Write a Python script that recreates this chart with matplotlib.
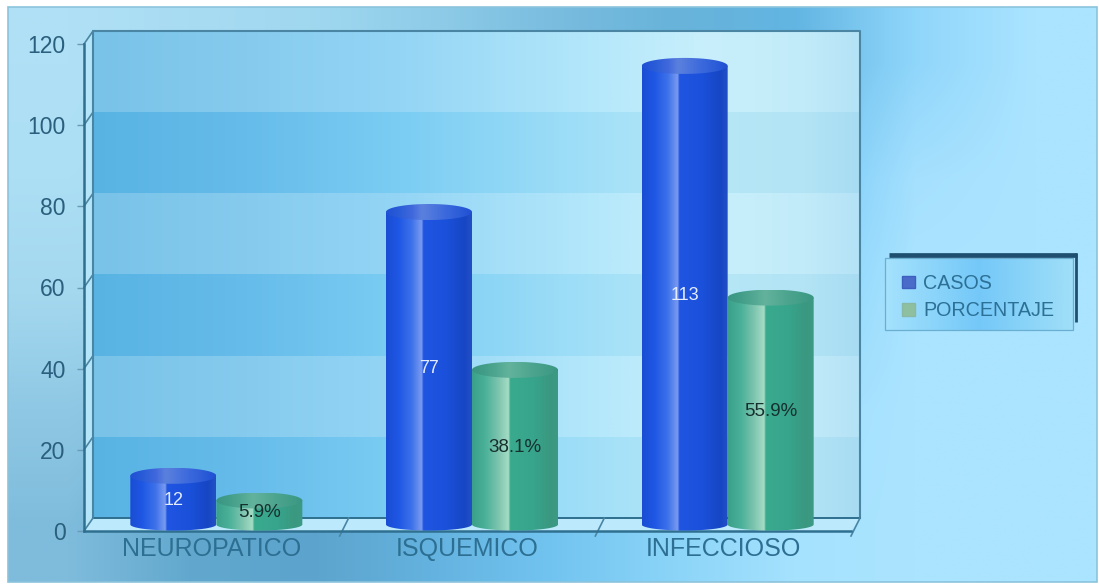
#!/usr/bin/env python3
import numpy as np
import matplotlib
matplotlib.use('Agg')
import matplotlib.pyplot as plt
from matplotlib.colors import to_rgb
from matplotlib.patches import Patch, Polygon, Rectangle

categories = ['NEUROPATICO', 'ISQUEMICO', 'INFECCIOSO']
casos = [12, 77, 113]
porcentaje = [5.9, 38.1, 55.9]
casos_labels = ['12', '77', '113']
porcentaje_labels = ['5.9%', '38.1%', '55.9%']
y_ticks = [0, 20, 40, 60, 80, 100, 120]

W, H = 1099, 584
plt.rcParams['font.family'] = ['Liberation Sans', 'DejaVu Sans']

# axes frame in pixels (front plane), everything 3d is offset from this
AX_L, AX_R, AX_T, AX_B = 84, 851, 44, 531
XPX = 3 / (AX_R - AX_L)
YPX = 120 / (AX_B - AX_T)
DX, DY = 9 * XPX, 13 * YPX


def hex_grid(rows):
    return np.array([[to_rgb(c) for c in row] for row in rows])


def ramp(stops, colors, n=256):
    t = np.linspace(0, 1, n)
    rgb = np.array([to_rgb(c) for c in colors])
    return np.stack([np.interp(t, stops, rgb[:, k]) for k in range(3)], axis=1)


panel_colors = [
    ['#b0e0f5', '#a8dcf3', '#a0d8f0', '#8fcce8', '#7abddf', '#68b3da', '#62b5e2', '#90d6fb', '#abe4ff'],
    ['#acdff4', '#a8dcf3', '#a0d8f0', '#90d0ec', '#80c8ec', '#78c8f0', '#72c8f8', '#a5e0fe', '#abe4ff'],
    ['#a4d8ef', '#a0d8f0', '#98d0ec', '#90d0ec', '#88ccf0', '#80ccf4', '#85d3fb', '#abe4ff', '#abe4ff'],
    ['#8fc8e4', '#88c0de', '#84bee0', '#88c6e8', '#8ccef0', '#94d6f8', '#a0defd', '#abe4ff', '#abe4ff'],
    ['#7fbcdc', '#62a8ce', '#5ca4cd', '#64b2df', '#72c4f0', '#8bd4f8', '#a5e2fe', '#abe4ff', '#abe4ff'],
]

wall_stops = [0, 0.2, 0.4, 0.66, 0.8, 0.93, 1]
wall_light = ['#79c2e8', '#86cbee', '#94d5f5', '#b5e8fb', '#c8effb', '#c2ebf9', '#b4e2f6']
wall_dark = ['#58b3e3', '#66bcea', '#7bcdf3', '#a3e0f8', '#b5e7f7', '#b2e4f5', '#a8dcf2']

blue_stops = [0, 0.15, 0.3, 0.41, 0.43, 0.7, 0.9, 1]
blue_side = ['#1a4cd4', '#1f58e4', '#3f72ea', '#7a9cf0', '#1f55e0', '#1a50da', '#1746c4', '#2450c6']
blue_top = ['#2050d4', '#2a5cd8', '#4068dc', '#5a80de', '#5a80de', '#3a68dc', '#2858d6', '#2050d0']
green_stops = [0, 0.15, 0.3, 0.42, 0.44, 0.7, 0.9, 1]
green_side = ['#3ba08a', '#4ab098', '#7cc4ae', '#a5dcc5', '#3aaa8e', '#37a58c', '#3a9880', '#3d9a85']
green_top = ['#3a9682', '#429e88', '#52a892', '#62b29c', '#62b29c', '#4ca48e', '#409c86', '#3a9682']

fig = plt.figure(figsize=(W / 100, H / 100), dpi=100, facecolor='white')

# panel behind the chart, drawn in pixel coordinates
bg = fig.add_axes([0, 0, 1, 1], zorder=0)
bg.set_xlim(0, W)
bg.set_ylim(H, 0)
bg.axis('off')
bg.set_autoscale_on(False)
bg.imshow(hex_grid(panel_colors), extent=(8, 1097, 582, 7), aspect='auto', interpolation='bilinear')
bg.add_patch(Rectangle((8, 7), 1089, 575, fill=False, edgecolor='#8cc3dc', lw=1.2))

# legend box
legend_box = bg.imshow(ramp([0, 0.5, 1], ['#a5e2fd', '#74c8f8', '#a0dff8'])[None, :, :],
                       extent=(885, 1073, 330, 258), aspect='auto', interpolation='bilinear')
bg.add_patch(Rectangle((885, 258), 188, 72, fill=False, edgecolor='#6aaed2', lw=0.9))
bg.plot([889, 1077], [254.5, 254.5], color='#1f4f70', lw=3.4, solid_capstyle='butt')
bg.plot([1076, 1076], [253, 322], color='#1f4f70', lw=2, solid_capstyle='butt')

ax = fig.add_axes([AX_L / W, 1 - AX_B / H, (AX_R - AX_L) / W, (AX_B - AX_T) / H], zorder=1)
ax.patch.set_visible(False)
ax.set_xlim(0, 3)
ax.set_ylim(0, 120)
ax.set_autoscale_on(False)

# back wall bands, dark and light in turn
wall = np.stack([ramp(wall_stops, wall_light if i % 2 == 0 else wall_dark) for i in range(6)])
for i in range(6):
    band = ax.imshow(wall[5 - i][None, :, :], aspect='auto', interpolation='bilinear',
                     extent=(DX, 3 + DX, y_ticks[i] + DY, y_ticks[i + 1] + DY), zorder=1)
    band.set_clip_on(False)

# side wall and floor
ax.add_patch(Polygon([(0, 0), (DX, DY), (DX, 120 + DY), (0, 120)], closed=True,
                     facecolor='#b5e5f8', edgecolor='none', zorder=1, clip_on=False))
ax.add_patch(Polygon([(0, 0), (3, 0), (3 + DX, DY), (DX, DY)], closed=True,
                     facecolor='#bce9fb', edgecolor='none', zorder=1, clip_on=False))

# wall outline
edge = '#4a86a4'
ax.plot([DX, DX, 3 + DX, 3 + DX], [DY, 120 + DY, 120 + DY, DY], color=edge, lw=1.5, zorder=2, clip_on=False)
ax.plot([DX, 3 + DX], [DY, DY], color='#2e6f8f', lw=1.4, zorder=2, clip_on=False)

# notches along both floor and wall edges
for v in y_ticks:
    ax.plot([0, DX], [v, v + DY], color=edge, lw=1.2, zorder=2, clip_on=False)
for i in range(1, 4):
    ax.plot([i, i + DX], [-5 * YPX, DY], color=edge, lw=1.2, zorder=2, clip_on=False)


def cylinder(xc, value, side_stops, side, top):
    half = 43 * XPX
    yc = value + 6.5 * YPX
    y0 = 6.5 * YPX
    t = np.linspace(0, np.pi, 60)
    arc_x = xc - half * np.cos(t)
    body = list(zip(arc_x, y0 - 6 * YPX * np.sin(t))) + [(xc + half, yc), (xc - half, yc)]
    clip = Polygon(body, closed=True, transform=ax.transData)
    im = ax.imshow(ramp(side_stops, side)[None, :, :], extent=(xc - half, xc + half, 0, yc),
                   aspect='auto', interpolation='bilinear', zorder=3)
    im.set_clip_path(clip)
    # top cap
    t = np.linspace(0, 2 * np.pi, 120)
    cap = Polygon(list(zip(xc + half * np.cos(t), yc + 8 * YPX * np.sin(t))), closed=True, transform=ax.transData)
    im = ax.imshow(ramp(side_stops, top)[None, :, :], extent=(xc - half, xc + half, yc - 8 * YPX, yc + 8 * YPX),
                   aspect='auto', interpolation='bilinear', zorder=4)
    im.set_clip_path(cap)
    return yc


for i in range(len(categories)):
    xb = i + 0.5 + DX / 2 - 43 * XPX
    xg = i + 0.5 + DX / 2 + 43 * XPX
    cylinder(xb, casos[i], blue_stops, blue_side, blue_top)
    cylinder(xg, porcentaje[i], green_stops, green_side, green_top)
    ax.text(xb, casos[i] / 2 + 6.5 * YPX, casos_labels[i], color='#e4edff', fontsize=13,
            ha='center', va='center', zorder=5)
    ax.text(xg, porcentaje[i] / 2 + 6.5 * YPX, porcentaje_labels[i], color='#16302e', fontsize=13.5,
            ha='center', va='center', zorder=5)

# real axes, ticks and labels
for side in ['top', 'right']:
    ax.spines[side].set_visible(False)
for side in ['left', 'bottom']:
    ax.spines[side].set_color('#2f6f8f')
    ax.spines[side].set_linewidth(1.8)
    ax.spines[side].set_zorder(2.5)
ax.set_yticks(y_ticks)
ax.set_yticklabels([str(v) for v in y_ticks], fontsize=16.5, color='#2a5f7d')
ax.tick_params(axis='y', length=5, width=1, color='#6a9ab5', pad=8.3)
ax.set_xticks([i + 0.5 for i in range(len(categories))])
ax.set_xticklabels(categories, fontsize=18, color='#2d6f92')
ax.tick_params(axis='x', length=0, pad=4.5)

handles = [Patch(facecolor='#4a6bc8', edgecolor='#3d5fc0', label='CASOS'),
           Patch(facecolor='#8ec0a0', edgecolor='#8ab8a4', label='PORCENTAJE')]
leg = ax.legend(handles=handles, loc='upper left', frameon=False, fontsize=14.2,
                bbox_to_anchor=(902 / W, 1 - 274 / H), bbox_transform=fig.transFigure,
                handlelength=0.66, handleheight=0.62, handletextpad=0.42, labelspacing=0.42,
                borderpad=0, borderaxespad=0, labelcolor='#2c7096')
leg.set_zorder(6)

fig.savefig('out.png', dpi=100)
